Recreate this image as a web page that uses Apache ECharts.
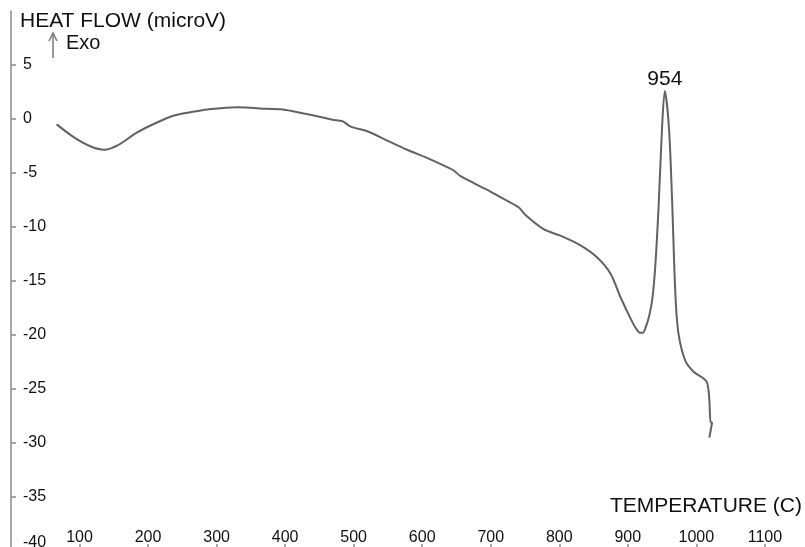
<!DOCTYPE html>
<html><head><meta charset="utf-8">
<script src="https://cdn.jsdelivr.net/npm/echarts@6/dist/echarts.min.js"></script>
<style>html,body{margin:0;padding:0;background:#fff}#c{width:805px;height:547px}</style>
</head><body><div id="c"></div>
<script>
// Temperature (C) and heat flow (microV)
const temperature = [66.6, 92, 116.6, 136, 155.5, 184.7, 213.8, 238, 262, 286.7, 330, 374, 393, 413, 442, 469, 483.5, 495.6, 520, 549, 578, 607, 636.5, 646, 656, 695, 714, 741, 750.7, 777, 801.7, 831, 855, 874.6, 890, 905, 912, 918, 922, 926, 930.5, 935.5, 940, 945, 950, 954, 960, 964.6, 969.4, 974, 984, 996, 1015.6, 1021, 1023, 1019];
const heatFlow    = [-0.5, -1.7, -2.55, -2.85, -2.45, -1.22, -0.3, 0.32, 0.63, 0.88, 1.09, 0.94, 0.9, 0.7, 0.32, -0.07, -0.2, -0.7, -1.13, -2.0, -2.85, -3.6, -4.46, -4.77, -5.3, -6.56, -7.24, -8.2, -8.9, -10.2, -10.8, -11.7, -12.8, -14.3, -16.6, -18.6, -19.4, -19.8, -19.8, -19.3, -18.4, -16.8, -13.7, -8.0, -0.76, 2.6, -0.76, -7.5, -16.2, -19.9, -22.4, -23.4, -24.4, -28.1, -28.1, -29.5];
const peakTemp = 954;
const peakValue = 2.6;
const xLabels = [100, 200, 300, 400, 500, 600, 700, 800, 900, 1000, 1100];
const yLabels = [-40, -35, -30, -25, -20, -15, -10, -5, 0, 5];

const chart = echarts.init(document.getElementById('c'), null, {renderer: 'canvas'});
const points = temperature.map((t, i) => [t, heatFlow[i]]);
const textColor = '#111';
const axisColor = '#8a8a8a';
const lineColor = '#626262';
const font = 'Liberation Sans, Arial, sans-serif';

chart.setOption({
  animation: false,
  backgroundColor: '#fff',
  grid: {left: 11, top: 11, width: 795, height: 540, containLabel: false, outerBoundsMode: 'none'},
  xAxis: {
    type: 'value', min: 0, max: 1160, interval: 100,
    axisLine: {show: false, onZero: false},
    axisTick: {show: true, inside: true, length: 7, customValues: xLabels, lineStyle: {color: axisColor, width: 1.5}},
    splitLine: {show: false},
    axisLabel: {
      inside: true, margin: 5, fontSize: 16, color: textColor, fontFamily: font,
      customValues: xLabels,
      formatter: v => String(v)
    }
  },
  yAxis: {
    type: 'value', min: -40, max: 10, interval: 5,
    axisLine: {show: true, onZero: false, lineStyle: {color: axisColor, width: 1.5}},
    axisTick: {show: true, inside: true, length: 5, customValues: yLabels, lineStyle: {color: axisColor, width: 1.5}},
    splitLine: {show: false},
    axisLabel: {
      inside: true, margin: 12, fontSize: 16, color: textColor, fontFamily: font,
      verticalAlignMinLabel: 'bottom',
      verticalAlignMaxLabel: 'middle',
      customValues: yLabels,
      formatter: v => String(v)
    }
  },
  graphic: [
    {type: 'text', left: 20, top: 11, style: {text: 'HEAT FLOW (microV)', fontSize: 21, fill: textColor, fontFamily: font}},
    {type: 'text', left: 66, top: 33, style: {text: 'Exo', fontSize: 20, fill: textColor, fontFamily: font}},
    {type: 'line', shape: {x1: 53, y1: 58, x2: 53, y2: 34}, style: {stroke: '#777', lineWidth: 1.5}},
    {type: 'polyline', shape: {points: [[49, 41], [53, 33], [57, 41]]}, style: {stroke: '#777', lineWidth: 1.5, fill: null}},
    {type: 'text', right: 3, top: 496, style: {text: 'TEMPERATURE (C)', fontSize: 21, fill: textColor, fontFamily: font}}
  ],
  series: [{
    type: 'line',
    data: points,
    showSymbol: false,
    smooth: 0.3,
    lineStyle: {color: lineColor, width: 2},
    markPoint: {
      symbol: 'circle', symbolSize: 0,
      label: {show: true, position: 'top', distance: 1, formatter: '{c}', fontSize: 21, color: textColor, fontFamily: font},
      data: [{coord: [peakTemp, peakValue], value: peakTemp}]
    }
  }]
});
</script>
</body></html>
